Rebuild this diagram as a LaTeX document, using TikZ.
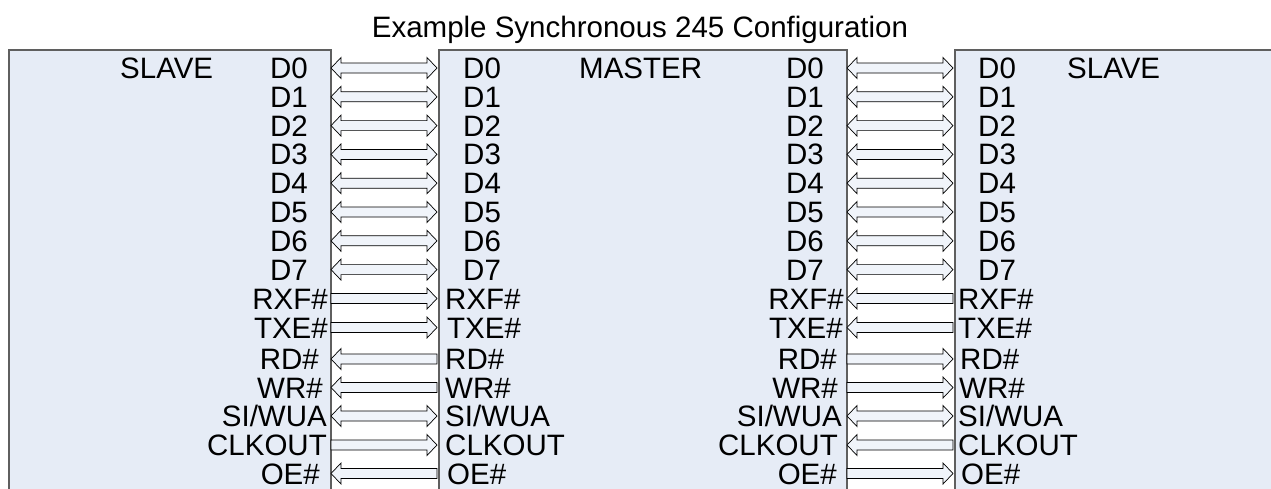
\documentclass[tikz,border=0pt]{standalone}
\usepackage{fontspec}
\setmainfont{Liberation Sans}
\definecolor{boxfill}{RGB}{230,236,246}
\definecolor{boxline}{RGB}{95,95,95}
\tikzset{
  box/.style={draw=boxline, line width=1.5pt, fill=boxfill, rectangle, inner sep=0pt, anchor=north west},
  lbl/.style={inner sep=0pt, font=\fontsize{29.5}{29.5}\selectfont},
  blockarrow/.style={draw=black, line width=0.7pt, fill=boxfill!60!white, line join=miter}
}
\newcommand\dblarrow[3]{% xa xb y
  \path[blockarrow] (#1,#3) -- (#1+10,#3-10.5) -- (#1+10,#3-5) -- (#2-10,#3-5) -- (#2-10,#3-10.5) -- (#2,#3) -- (#2-10,#3+10.5) -- (#2-10,#3+5) -- (#1+10,#3+5) -- (#1+10,#3+10.5) -- cycle;}
\newcommand\rarrow[3]{% tail xa, tip xb
  \path[blockarrow] (#1,#3-5) -- (#2-10,#3-5) -- (#2-10,#3-10.5) -- (#2,#3) -- (#2-10,#3+10.5) -- (#2-10,#3+5) -- (#1,#3+5) -- cycle;}
\newcommand\larrow[3]{% tip xa, tail xb
  \path[blockarrow] (#2,#3-5) -- (#1+10,#3-5) -- (#1+10,#3-10.5) -- (#1,#3) -- (#1+10,#3+10.5) -- (#1+10,#3+5) -- (#2,#3+5) -- cycle;}
\begin{document}
\begin{tikzpicture}[x=1pt,y=-1pt]
\clip (0,0) rectangle (1271,488);
\fill[white] (0,0) rectangle (1271,488);
% title
\node[lbl, anchor=base] (title) at (640,37) {Example Synchronous 245 Configuration};
% boxes
\node[box, minimum width=322pt, minimum height=480pt] (ls) at (8,49) {};
\node[box, minimum width=408pt, minimum height=480pt] (ms) at (438,49) {};
\node[box, minimum width=340pt, minimum height=480pt] (rs) at (954,49) {};
\node[lbl, anchor=base west] (lsname) at (120,78.5) {SLAVE};
\node[lbl, anchor=base west] (msname) at (579,78.5) {MASTER};
\node[lbl, anchor=base west] (rsname) at (1067,78.5) {SLAVE};
% data rows
\foreach \i in {0,...,7}{
  \pgfmathsetmacro\yc{68+28.8*\i}
  \pgfmathsetmacro\yb{\yc+10.5}
  \node[lbl, anchor=base east] (lsD\i) at (308,\yb) {D\i};
  \node[lbl, anchor=base west] (mlD\i) at (463,\yb) {D\i};
  \node[lbl, anchor=base east] (mrD\i) at (824,\yb) {D\i};
  \node[lbl, anchor=base west] (rsD\i) at (978,\yb) {D\i};
  \dblarrow{331}{437}{\yc}
  \dblarrow{847}{953}{\yc}
}
% control rows: y / name / left slave x / master right x / master left x / right slave x / left pair dir / right pair dir
\foreach \yc/\t/\lx/\mrx/\mlx/\rsx/\dl/\dr in {
  298.5/RXF\#/328/844/445/958/r/l,
  327.5/TXE\#/328/843/447/958/r/l,
  359/RD\#/319/837/445/960/l/r,
  387.5/WR\#/323/838/445/959/l/r,
  416/SI\slash WUA/327/842/445/958/b/b,
  445/CLKOUT/327/838/445/958/r/l,
  473.5/OE\#/320/837/447/961/l/r}{
  \pgfmathsetmacro\yb{\yc+10.5}
  \node[lbl, anchor=base east] at (\lx,\yb) {\t};
  \node[lbl, anchor=base west] at (\mlx,\yb) {\t};
  \node[lbl, anchor=base east] at (\mrx,\yb) {\t};
  \node[lbl, anchor=base west] at (\rsx,\yb) {\t};
  \if\dl r\rarrow{331}{437}{\yc}\fi
  \if\dl l\larrow{331}{437}{\yc}\fi
  \if\dl b\dblarrow{331}{437}{\yc}\fi
  \if\dr r\rarrow{847}{953}{\yc}\fi
  \if\dr l\larrow{847}{953}{\yc}\fi
  \if\dr b\dblarrow{847}{953}{\yc}\fi
}
\end{tikzpicture}
\end{document}
